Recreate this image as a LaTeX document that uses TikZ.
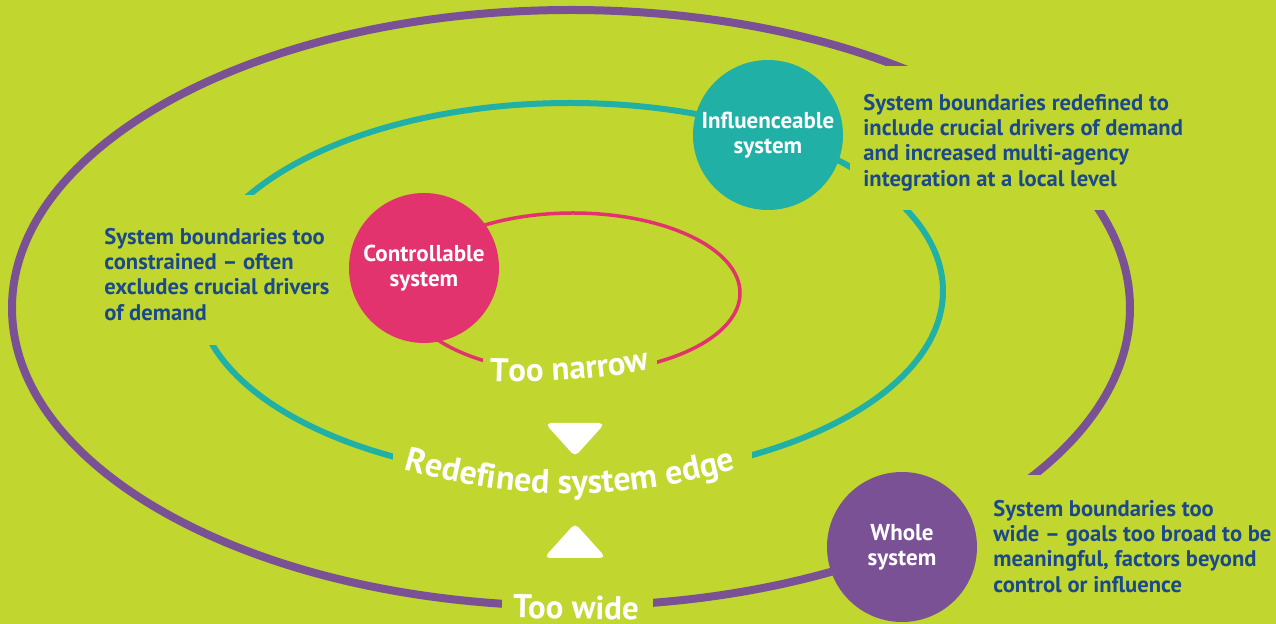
\documentclass[tikz,border=0pt]{standalone}
\usepackage{fontspec}
\setmainfont{PT Sans}
\usetikzlibrary{decorations.text}
\definecolor{bg}{HTML}{C1D72F}
\definecolor{pur}{HTML}{7A5195}
\definecolor{tealc}{HTML}{21B0A6}
\definecolor{pinkc}{HTML}{E3336F}
\definecolor{navy}{HTML}{1B4A8A}
\begin{document}
\begin{tikzpicture}[x=0.5pt,y=-0.5pt,
  gap/.style={fill=bg,draw=none},
  sysnode/.style={circle,inner sep=0pt,minimum size=75pt,text=white,font=\bfseries\fontsize{11.5}{12.5}\selectfont,align=center},
  desc/.style={anchor=north west,inner sep=0pt,text=navy,align=left,font=\bfseries\fontsize{11.3}{12.6}\selectfont},
  bigfont/.style={font=\bfseries\fontsize{16.5}{18}\selectfont},
  biglabel/.style={bigfont,text=white,inner sep=0pt},
  tri/.style={fill=white,draw=white,line width=1pt,rounded corners=2pt}]
\fill[bg] (0,0) rectangle (1276,624);
\useasboundingbox (0,0) rectangle (1276,624);
% ellipses
\draw[pur,line width=4pt] (571,308) ellipse [x radius=279.5pt,y radius=149pt];
\draw[tealc,line width=3pt] (570,291) ellipse [x radius=186.5pt,y radius=94pt];
\draw[pinkc,line width=1.75pt] (573,293) ellipse [x radius=83.5pt,y radius=40pt];
% gaps behind texts
\fill[gap] (850,66) rectangle (1230,210);
\fill[gap] (90,195) rectangle (345,345);
\fill[gap] (955,475) rectangle (1276,624);
\fill[gap] (483,340) rectangle (657,395);
\fill[gap] (393,428) rectangle (752,505);
\fill[gap] (502,585) rectangle (653,624);
% circles
\node[sysnode,fill=pinkc] (ctrl) at (424,268) {Controllable\\system};
\node[sysnode,fill=tealc] (infl) at (768,135) {Influenceable\\system};
\node[sysnode,fill=pur] (whole) at (902,547) {Whole\\system};
% descriptions
\node[desc] (dleft) at (104,228) {System boundaries too\\constrained -- often\\excludes crucial drivers\\of demand};
\node[desc] (dtop) at (863,94) {System boundaries redefined to\\include crucial drivers of demand\\and increased multi-agency\\integration at a local level};
\node[desc] (dbot) at (993,500) {System boundaries too\\wide -- goals too broad to be\\meaningful, factors beyond\\control or influence};
% triangles
\draw[tri] (547,424) -- (603,424) -- (575,455) -- cycle;
\draw[tri] (575,525) -- (604,557) -- (546,557) -- cycle;
% labels
\path[decorate,decoration={text along path,text align=center,text color=white,
  text={|\bfseries\fontsize{16.5}{18}\selectfont|Too narrow}}]
  (488,381) .. controls (540,383) and (600,380) .. (652,369);
\path[decorate,decoration={text along path,text align=center,text color=white,
  text={|\bfseries\fontsize{17}{18}\selectfont|Redefined system edge}}]
  (400,468) .. controls (515,502) and (625,502) .. (740,468);
\node[biglabel,anchor=base,rotate=-1] (wide) at (576,619) {Too wide};
\end{tikzpicture}
\end{document}
